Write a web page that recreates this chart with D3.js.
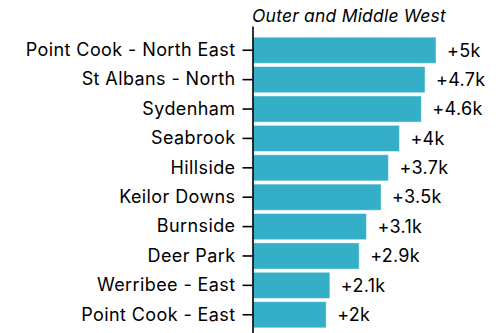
<!DOCTYPE html>
<html>
<head>
<meta charset="utf-8">
<script src="https://cdn.jsdelivr.net/npm/d3@7"></script>
<style>
  html, body { margin: 0; padding: 0; background: #fff; }
  svg { display: block; }
  text { font-family: Inter, "Noto Sans", sans-serif; fill: #000; }
</style>
</head>
<body>
<svg id="chart" width="504" height="333"></svg>
<script>
// Population growth by area, Outer and Middle West
const title = "Outer and Middle West";
const areas = [
  "Point Cook - North East",
  "St Albans - North",
  "Sydenham",
  "Seabrook",
  "Hillside",
  "Keilor Downs",
  "Burnside",
  "Deer Park",
  "Werribee - East",
  "Point Cook - East"
];
const growth = [5, 4.7, 4.6, 4, 3.7, 3.5, 3.1, 2.9, 2.1, 2];
const valueLabels = ["+5k", "+4.7k", "+4.6k", "+4k", "+3.7k", "+3.5k", "+3.1k", "+2.9k", "+2.1k", "+2k"];

const rows = areas.map((a, i) => ({ area: a, value: growth[i], label: valueLabels[i] }));

const svg = d3.select("#chart");
const axisX = 252.5;

const x = d3.scaleLinear().domain([0, 5]).range([axisX + 0.5, 436]);
const y = d3.scaleBand()
  .domain(areas)
  .range([26, 339])
  .paddingInner(0.11)
  .paddingOuter(0.38);

// Bars
svg.append("g")
  .selectAll("rect")
  .data(rows)
  .join("rect")
  .attr("x", x(0))
  .attr("y", d => y(d.area))
  .attr("width", d => x(d.value) - x(0))
  .attr("height", y.bandwidth())
  .attr("fill", "#35afc8")
  .attr("stroke", "rgba(255,255,255,0.45)")
  .attr("stroke-width", 1);

// Value labels
svg.append("g")
  .selectAll("text")
  .data(rows)
  .join("text")
  .attr("x", d => x(d.value) + 11)
  .attr("y", d => y(d.area) + y.bandwidth() / 2)
  .attr("dy", "0.35em")
  .attr("font-size", 18)
  .attr("letter-spacing", "0.3px")
  .text(d => d.label);

// Category axis
const yAxis = d3.axisLeft(y).tickSize(10).tickPadding(7).tickSizeOuter(0);
const gAxis = svg.append("g")
  .attr("transform", `translate(${axisX},0)`)
  .call(yAxis);
gAxis.select(".domain").attr("stroke", "#000").attr("stroke-width", 1.6);
gAxis.selectAll(".tick line").attr("stroke", "#000").attr("stroke-width", 1.6);
gAxis.selectAll(".tick text")
  .attr("font-size", 18)
  .attr("letter-spacing", "0.4px")
  .attr("font-family", "Inter, 'Noto Sans', sans-serif")
  .attr("fill", "#000");

// Title
svg.append("text")
  .attr("x", 252)
  .attr("y", 21.5)
  .attr("font-size", 17.5)
  .attr("font-style", "italic")
  .attr("letter-spacing", "0.2px")
  .text(title);
</script>
</body>
</html>
